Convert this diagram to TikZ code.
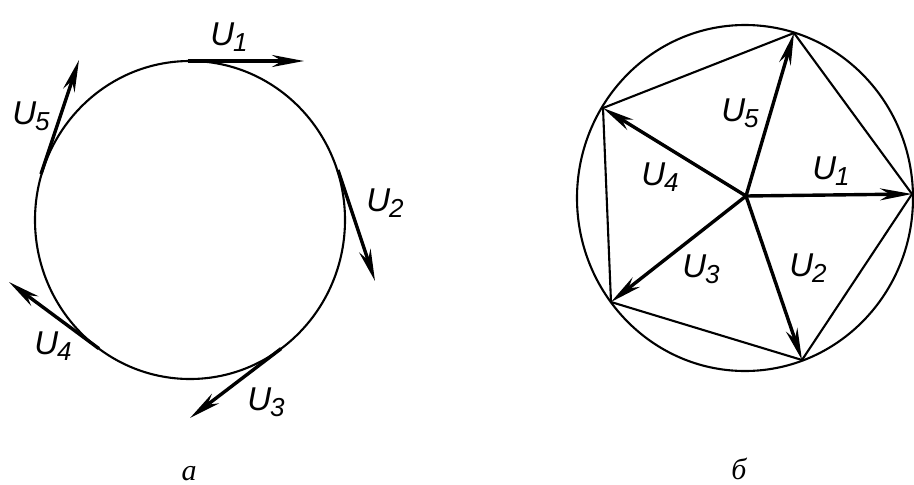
\documentclass[tikz,border=0pt]{standalone}
\usepackage{fontspec}
\setmainfont{Liberation Serif}
\newfontfamily\labfont{Liberation Sans}
\usetikzlibrary{arrows.meta}
\newcommand\vlab[1]{{\labfont\itshape U\kern-1pt\raisebox{-6pt}{\fontsize{26}{26}\selectfont #1}}}
\begin{document}
\begin{tikzpicture}[x=1pt,y=-1pt,
  vec/.style={line width=3.4pt,-{Stealth[length=32pt,width=12pt,inset=10pt]}},
  thinline/.style={line width=2.1pt},
  lab/.style={font=\fontsize{33}{33}\selectfont, inner sep=0pt},
  captxt/.style={font=\fontsize{30}{30}\selectfont\itshape, inner sep=0pt, anchor=base, text depth=0pt}]
\useasboundingbox (0,0) rectangle (914,485);
% ---------- a ----------
\draw[thinline] (190,220) ellipse [x radius=155pt, y radius=159pt];
\coordinate (t1) at (188,61);    \coordinate (h1) at (304,61);
\coordinate (t2) at (338,170); \coordinate (h2) at (375,281);
\coordinate (t3) at (281.1,348.6); \coordinate (h3) at (190,418);
\coordinate (t4) at (98.9,348.6);  \coordinate (h4) at (9,282);
\coordinate (t5) at (41,174);  \coordinate (h5) at (79,60);
\draw[vec] (t1) -- (h1);
\draw[vec] (t2) -- (h2);
\draw[vec] (t3) -- (h3);
\draw[vec] (t4) -- (h4);
\draw[vec] (t5) -- (h5);
\node[lab] (l1) at (229,37) {\vlab{1}};
\node[lab] (l2) at (385,203) {\vlab{2}};
\node[lab] (l3) at (266,402) {\vlab{3}};
\node[lab] (l4) at (53,346) {\vlab{4}};
\node[lab] (l5) at (31,116) {\vlab{5}};
\node[captxt] (ca) at (189,480) {а};
% ---------- б ----------
\draw[thinline] (745,198) ellipse [x radius=168pt, y radius=173pt];
\coordinate (O) at (746,196);
\coordinate (A1) at (912,194);
\coordinate (A2) at (802,360);
\coordinate (A3) at (611,302);
\coordinate (A4) at (603,108);
\coordinate (A5) at (794,33);
\draw[thinline, line join=round] (A1) -- (A5) -- (A4) -- (A3) -- (A2) -- cycle;
\draw[vec] (O) -- (A1);
\draw[vec] (O) -- (A2);
\draw[vec] (O) -- (A3);
\draw[vec] (O) -- (A4);
\draw[vec] (O) -- (A5);
\node[lab] (r1) at (831,171) {\vlab{1}};
\node[lab] (r2) at (808,268) {\vlab{2}};
\node[lab] (r3) at (701,269) {\vlab{3}};
\node[lab] (r4) at (660,177) {\vlab{4}};
\node[lab] (r5) at (740,113) {\vlab{5}};
\node[captxt] (cb) at (739,479) {б};
\end{tikzpicture}
\end{document}
